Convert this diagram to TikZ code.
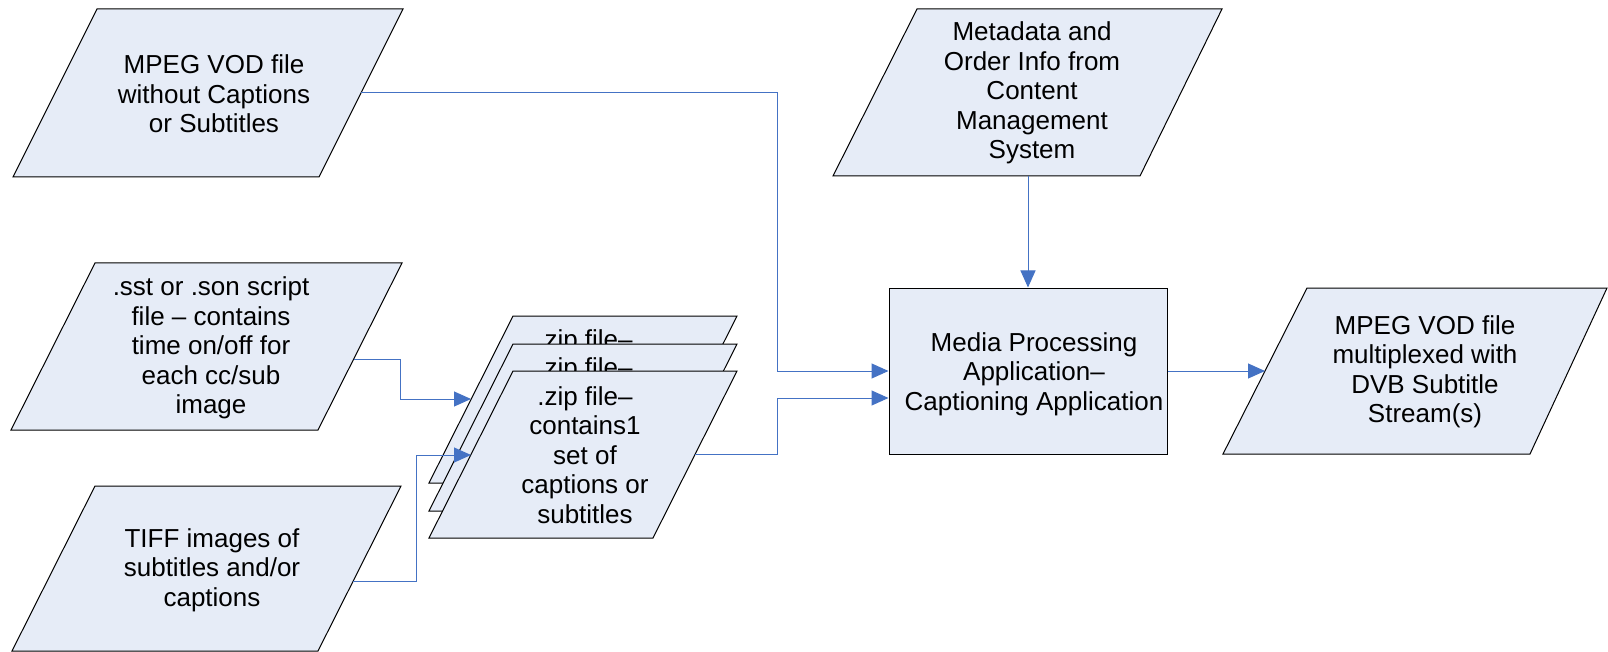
\documentclass[tikz,border=0pt]{standalone}
\usepackage{fontspec}
\setmainfont{Liberation Sans}
\usetikzlibrary{arrows.meta}
\definecolor{shapefill}{RGB}{230,236,247}
\definecolor{conncol}{RGB}{68,114,196}
\tikzset{
  para/.style={draw=black, fill=shapefill, line width=1pt, line join=miter},
  lbl/.style={align=center, font=\fontsize{26}{29.5}\selectfont, inner sep=0pt},
  conn/.style={draw=conncol, line width=1pt, -{Triangle[length=17pt,width=15pt]}},
  procbox/.style={draw=black, fill=shapefill, line width=1pt, minimum width=278pt, minimum height=166pt, inner sep=0pt},
}
\begin{document}
\begin{tikzpicture}[x=1pt,y=-1pt]
\useasboundingbox (0,0) rectangle (1608,652);

% input MPEG
\path[para] (97,9) -- (403,9) -- (319,177) -- (13,177) -- cycle;
\node[lbl] (t1) at (214,94) {MPEG VOD file\\without Captions\\or Subtitles};
\coordinate (p1out) at (361,93);

% sst
\path[para] (95,263) -- (402,263) -- (318,430) -- (11,430) -- cycle;
\node[lbl] (t2) at (211,348) {.sst or .son script\\file -- contains\\time on/off for\\each cc/sub\\image};
\coordinate (p2out) at (354,359);

% TIFF
\path[para] (95,486) -- (401,486) -- (318,651) -- (12,651) -- cycle;
\node[lbl] (t3) at (212,570) {TIFF images of\\subtitles and/or\\captions};
\coordinate (p3out) at (353,581);

% zip stack
\path[para] (513,316) -- (737,316) -- (653,483) -- (429,483) -- cycle;
\node[lbl, anchor=base] (z1) at (585,348) {.zip file--};
\path[para] (513,344) -- (737,344) -- (653,511) -- (429,511) -- cycle;
\node[lbl, anchor=base] (z2) at (585,376) {.zip file--};
\path[para] (513,371) -- (737,371) -- (653,538) -- (429,538) -- cycle;
\node[lbl] (z3) at (585,455) {.zip file--\\contains1\\set of\\captions or\\subtitles};
\coordinate (z1in) at (471,399);
\coordinate (z3in) at (471,455);
\coordinate (z3out) at (695,454);

% metadata
\path[para] (917,9) -- (1222,9) -- (1140,176) -- (833,176) -- cycle;
\node[lbl] (tm) at (1032,93) {Metadata and\\Order Info from\\Content\\Management\\System};
\coordinate (mout) at (1028,176);

% processing box
\node[procbox] (box) at (1028,371) {};
\node[lbl] (boxlbl) at (1034,374) {Media Processing\\Application--\\Captioning Application};

% output
\path[para] (1307,288) -- (1607,288) -- (1530,454) -- (1223,454) -- cycle;
\node[lbl] (to) at (1425,372) {MPEG VOD file\\multiplexed with\\DVB Subtitle\\Stream(s)};
\coordinate (oin) at (1265,371);

% connectors
\draw[conn] (p1out) -- (777,93) |- (box.west);
\draw[conn] (p2out) -- (400,359) |- (z1in);
\draw[conn] (p3out) -- (416,581) |- (z3in);
\draw[conn] (z3out) -- (777,454) |- ([yshift=-27pt]box.west);
\draw[conn] (mout) -- (box.north);
\draw[conn] (box.east) -- (oin);
\end{tikzpicture}
\end{document}
